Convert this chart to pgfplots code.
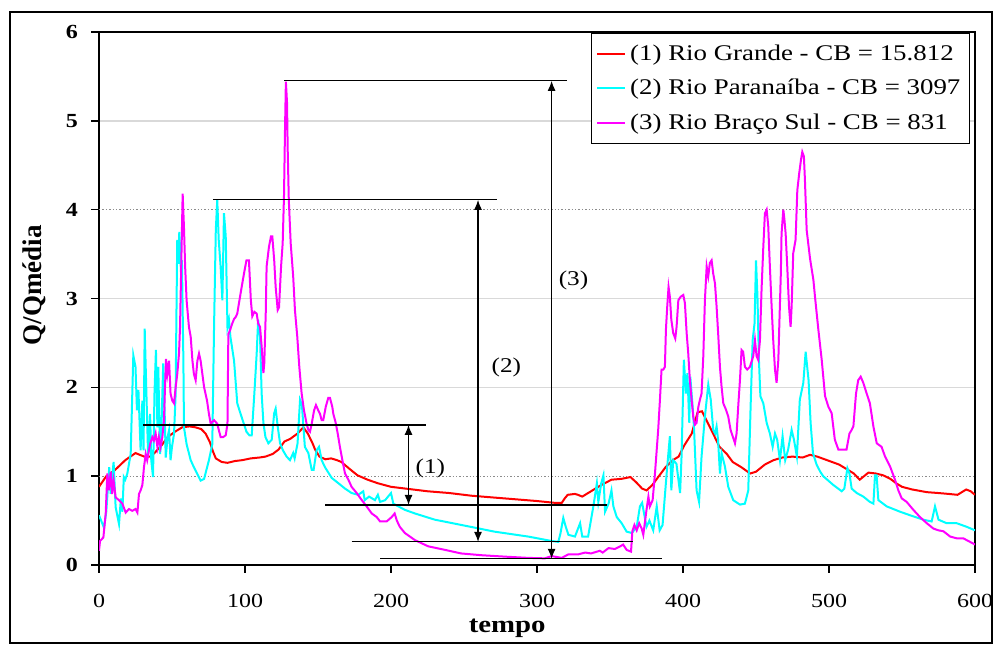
\documentclass[border=0pt]{standalone}
\usepackage{fontspec}
\setmainfont{Liberation Serif}[FakeStretch=1.2]
\newfontfamily\ylabfont{Liberation Serif}
\usepackage{pgfplots}
\pgfplotsset{compat=1.18}
\usetikzlibrary{arrows.meta}
\definecolor{rd}{RGB}{255,0,0}
\definecolor{cy}{RGB}{0,255,255}
\definecolor{mg}{RGB}{255,0,255}
\begin{document}
\begin{tikzpicture}
\begin{axis}[
  width=438pt, height=266.5pt, scale only axis,
  xmin=0, xmax=600, ymin=0, ymax=6,
  xtick={0,100,...,600}, ytick={0,2,3,5,6}, extra y ticks={1,4},
  /pgf/number format/assume math mode=true,
  axis line style={line width=1.2pt},
  tick align=outside, xtick pos=bottom, ytick pos=left,
  tick style={black, line width=0.8pt},
  major tick length=4pt,
  ymajorgrids, grid style={gray!30, line width=0.7pt},
  extra y tick style={grid style={densely dotted, gray!90, line width=0.5pt}},
  xticklabel style={font=\fontsize{10}{12}\selectfont, yshift=-7pt},
  yticklabel style={font=\fontsize{10}{12}\selectfont\bfseries, xshift=-3pt},
  xlabel={tempo},
  xlabel style={font=\fontsize{12}{14}\selectfont\bfseries, at={(axis description cs:0.466,-0.118)}, anchor=center},
  ylabel={\ylabfont Q/Qmédia},
  ylabel style={font=\fontsize{13.5}{15}\selectfont\bfseries, at={(axis description cs:-0.0742,0.525)}, anchor=center, rotate=0},
  legend cell align=left,
  legend style={at={(axis description cs:0.9943,0.998)}, anchor=north east, draw=black, line width=0.6pt,
    font=\fontsize{11.2}{13}\selectfont, row sep=4pt, inner xsep=2.5pt, inner ysep=3.5pt,
    nodes={inner xsep=2pt}},
  legend image code/.code={\draw[#1, line width=1pt] (0pt,0pt) -- (14pt,0pt);},
]
\addplot[rd, line width=1pt] coordinates {
(0,0.88) (5,1.0) (11,1.07) (18,1.18) (25,1.26) (31,1.22) (35,1.22) (38,1.26) (43,1.35) (47,1.44) (52,1.5) (57,1.55) (62,1.56) (66,1.55) (70,1.53) (73,1.48) (76,1.38) (78,1.28) (80,1.2) (84,1.16) (88,1.15) (93,1.17) (98,1.18) (104,1.2) (110,1.21) (114,1.22) (119,1.25) (123,1.3) (127,1.39) (131,1.42) (136,1.48) (140,1.55) (143,1.48) (146,1.38) (148,1.3) (151,1.22) (155,1.19) (159,1.2) (163,1.18) (166,1.16) (171,1.09) (177,1.01) (184,0.96) (191,0.92) (200,0.88) (210,0.86) (225,0.83) (240,0.81) (255,0.78) (270,0.76) (285,0.74) (300,0.72) (312,0.7) (317,0.7) (319,0.75) (321,0.79) (326,0.8) (328,0.79) (331,0.77) (334,0.8) (338,0.84) (344,0.9) (351,0.96) (358,0.97) (364,0.99) (368,0.93) (372,0.86) (375,0.84) (379,0.9) (383,0.99) (388,1.1) (393,1.18) (397,1.22) (401,1.35) (406,1.48) (410,1.72) (413,1.73) (416,1.63) (420,1.5) (425,1.33) (430,1.25) (434,1.16) (440,1.1) (446,1.03) (450,1.05) (456,1.13) (462,1.18) (468,1.21) (475,1.22) (482,1.21) (487,1.24) (492,1.22) (497,1.19) (502,1.16) (507,1.13) (512,1.08) (517,1.03) (521,0.96) (524,1.0) (527,1.04) (532,1.03) (537,1.01) (542,0.97) (546,0.92) (550,0.88) (557,0.85) (567,0.82) (575,0.81) (582,0.8) (588,0.79) (591,0.82) (594,0.85) (597,0.83) (600,0.79)
};
\addlegendentry{(1) Rio Grande - CB = 15.812}
\addplot[cy, line width=1pt] coordinates {
(0,0.56) (3.4,0.42) (5,0.6) (7,1.1) (8,0.8) (10,1.16) (11.4,0.65) (13.7,0.46) (15,0.75) (16,0.6) (17,0.99) (18,0.96) (19.4,1.03) (21.7,1.25) (22.8,1.93) (23.5,2.36) (25,2.23) (26,1.74) (27,1.97) (28.5,1.29) (29.7,1.85) (30.5,1.29) (31.3,2.66) (32.6,1.85) (33.6,1.25) (35,1.7) (35.8,1.18) (37,0.99) (38,1.93) (39,2.42) (40,1.55) (40.6,2.23) (41.8,1.25) (42.5,1.36) (43.4,1.93) (44,2.27) (45,1.7) (45.7,1.21) (47,1.44) (48,1.52) (49,1.18) (50,1.33) (51.4,1.48) (52.5,1.93) (53,2.76) (53.6,3.66) (54.3,3.39) (55,3.75) (56,3.36) (56.8,3.43) (57.8,2.3) (58.2,1.55) (60,1.36) (62.8,1.18) (65,1.1) (69.6,0.95) (72,0.97) (75.3,1.18) (77.6,1.36) (78.8,2.68) (80,3.77) (81,4.11) (82,3.66) (83.3,3.36) (84.5,2.98) (85.6,3.96) (86.8,3.7) (88,2.68) (89,2.76) (90,2.57) (92.5,2.3) (94.7,1.82) (97,1.7) (99,1.6) (101,1.5) (103,1.46) (104.6,1.46) (106.4,1.93) (108,2.38) (109,2.76) (110.3,2.57) (111.4,1.93) (112.6,1.6) (114,1.44) (116,1.37) (118.3,1.41) (120,1.71) (121,1.76) (122.4,1.56) (124,1.37) (126,1.29) (128.5,1.22) (130.8,1.18) (133,1.26) (134,1.2) (136,1.37) (137.7,1.86) (139,1.8) (140,1.56) (141,1.33) (143.4,1.26) (145.7,1.07) (147,1.07) (149,1.29) (150.7,1.33) (152.5,1.18) (154.8,1.1) (159.4,0.98) (164,0.92) (168.5,0.86) (173,0.81) (177.6,0.79) (181,0.83) (182,0.73) (185,0.77) (189,0.73) (191,0.79) (192.5,0.71) (196,0.73) (200,0.81) (201.6,0.69) (205,0.66) (209.6,0.62) (216.4,0.58) (230,0.51) (248.4,0.45) (271,0.375) (294,0.32) (310,0.27) (314.6,0.26) (316,0.35) (318,0.53) (319.7,0.43) (321.5,0.34) (326,0.32) (329.5,0.47) (331,0.32) (335,0.32) (338.6,0.66) (341,0.92) (342,0.71) (344,0.92) (345.5,1.01) (346.6,0.6) (349,0.69) (351,0.84) (352.3,0.66) (354.6,0.54) (358,0.47) (361.4,0.375) (365,0.36) (368.3,0.43) (370.5,0.66) (372,0.7) (375,0.43) (377,0.5) (379.6,0.39) (382,0.66) (384,0.39) (386,0.45) (388.8,1.03) (391,1.45) (392,0.84) (393.3,1.18) (395.5,1.14) (398,0.81) (399,1.22) (400.6,2.31) (402,1.93) (403,2.16) (404.3,1.6) (405,2.12) (406.6,1.78) (407.5,1.56) (409.3,0.84) (411,0.71) (412.7,1.22) (415,1.67) (417.3,2.03) (419,1.86) (420.7,1.52) (422,1.48) (423,1.56) (424,1.41) (425.3,1.03) (426.4,1.26) (428.7,1.11) (431,0.88) (434.4,0.73) (439,0.68) (442.4,0.69) (444.7,0.84) (446.3,1.78) (447.7,2.53) (449,2.72) (450,3.43) (451,3.02) (452,2.31) (453,1.9) (455,1.82) (457.3,1.6) (459.5,1.48) (461.4,1.33) (463,1.48) (464.5,1.41) (466.4,1.18) (468.2,1.45) (470,1.18) (472,1.3) (474.4,1.52) (476,1.41) (478,1.22) (480,1.86) (482.4,2.05) (484,2.4) (486,2.08) (487.4,1.6) (489,1.26) (491.5,1.13) (494,1.05) (496,1.0) (503,0.9) (508.7,0.83) (510.5,0.86) (512.6,1.09) (514,1.03) (515.5,0.86) (519,0.81) (523.5,0.77) (528,0.71) (530.4,0.69) (531.5,1.01) (532.6,1.01) (533.8,0.73) (539.5,0.66) (548.6,0.6) (555.5,0.56) (564.6,0.51) (570.3,0.49) (572.6,0.66) (575,0.51) (580.6,0.47) (587.5,0.47) (594.3,0.43) (600,0.39)
};
\addlegendentry{(2) Rio Paranaíba - CB = 3097}
\addplot[mg, line width=1pt] coordinates {
(0,0.16) (0.7,0.27) (3,0.31) (4.6,0.58) (5.7,1.03) (6.8,0.84) (8,1.05) (9,0.8) (10,0.95) (11.4,0.76) (13.7,0.73) (16,0.69) (18.3,0.59) (20.5,0.63) (22.8,0.61) (25,0.63) (26.3,0.59) (27.4,0.8) (28.5,0.84) (29.7,0.9) (30.8,1.1) (32,1.25) (33,1.18) (35,1.36) (36.5,1.44) (37.6,1.4) (38.8,1.48) (40,1.33) (41,1.44) (42.2,1.33) (43.4,1.44) (44.5,1.63) (45.2,2.0) (45.9,2.32) (46.8,2.15) (48,2.3) (49,1.93) (50.2,1.85) (51.4,1.82) (52.5,2.0) (53.6,2.15) (54.8,2.38) (55.5,2.68) (56.4,3.43) (57.3,4.18) (58.2,3.8) (59,3.36) (60,2.98) (61.6,2.68) (62.8,2.57) (64,2.3) (65,2.15) (66.2,2.08) (67.4,2.3) (68.5,2.38) (69.6,2.3) (70.8,2.15) (72,2.0) (74,1.85) (75.3,1.7) (76.5,1.59) (78.8,1.63) (81,1.59) (83.3,1.44) (85,1.44) (86.8,1.46) (88,1.59) (88.6,2.6) (89.7,2.64) (91.3,2.72) (92.5,2.77) (93.6,2.79) (94.7,2.83) (97,3.06) (99.3,3.28) (101,3.43) (102.7,3.43) (104,2.98) (105,2.8) (106.4,2.85) (108,2.83) (109,2.72) (110.3,2.68) (111.4,2.46) (112.6,2.16) (113.2,2.27) (114.2,2.83) (114.8,3.36) (116.4,3.58) (117.8,3.7) (118.7,3.7) (120,3.43) (121,3.13) (122.4,2.87) (123.3,2.9) (124.7,3.36) (125.8,3.62) (126.7,4.15) (127.4,4.9) (128,5.44) (128.8,5.2) (129.2,4.71) (130,4.11) (131.3,3.62) (133,3.25) (134.2,2.87) (135.8,2.57) (137.2,2.23) (138.8,1.93) (140.4,1.74) (142.2,1.59) (143.4,1.52) (144.5,1.5) (145.7,1.59) (147.3,1.74) (148.6,1.8) (150.2,1.74) (151.4,1.7) (152.5,1.63) (153.6,1.63) (155.3,1.78) (157,1.88) (158.2,1.88) (159.8,1.78) (160.5,1.7) (162,1.61) (163.5,1.48) (165,1.33) (166.7,1.18) (168.5,1.03) (170.8,0.96) (173,0.88) (176.5,0.81) (180,0.73) (183.3,0.66) (186.8,0.58) (190.2,0.54) (192.5,0.49) (197,0.49) (200.5,0.54) (202.5,0.58) (204,0.5) (206,0.43) (209.5,0.36) (216.4,0.28) (225.5,0.21) (237,0.17) (248,0.13) (262,0.11) (278,0.094) (294,0.08) (305.4,0.075) (310,0.1) (317,0.08) (321.5,0.12) (328.3,0.12) (333,0.14) (337,0.13) (343,0.16) (345,0.14) (349,0.19) (353.4,0.18) (357,0.21) (359,0.23) (361.4,0.17) (364.4,0.15) (365.3,0.38) (366.7,0.45) (368.3,0.39) (370,0.47) (371.7,0.41) (372.8,0.34) (375,0.62) (376.3,0.77) (377.3,0.66) (379.2,0.73) (380.8,1.03) (383,1.52) (384.2,1.86) (385.3,2.2) (386.5,2.2) (387.6,2.23) (388.3,2.65) (389.2,2.91) (390.1,3.13) (391,3.02) (392,2.76) (393.3,2.61) (394.7,2.55) (395.6,2.68) (396.8,2.98) (398.4,3.02) (400.2,3.04) (401.3,2.95) (402.5,2.61) (403.6,2.38) (404.7,2.08) (405.9,1.86) (407,1.67) (408.2,1.58) (409.3,1.6) (410.5,1.78) (411.6,1.86) (412.7,1.93) (413.9,2.35) (415,2.98) (416.2,3.36) (417.3,3.25) (418.4,3.4) (419.6,3.43) (420.7,3.28) (421.9,3.17) (423,2.91) (424.2,2.57) (425.3,2.23) (426.4,2.01) (427.6,1.82) (429.4,1.75) (431,1.67) (432.6,1.52) (434,1.45) (435.6,1.37) (436.7,1.48) (437.8,1.78) (439,2.08) (440.1,2.42) (441.2,2.4) (442.4,2.23) (444,2.2) (445.8,2.23) (448.1,2.35) (449.3,2.53) (450.4,2.35) (451.5,2.31) (452.7,2.53) (453.8,3.1) (455,3.58) (456.1,3.96) (457.3,4.0) (458.4,3.81) (459.5,3.36) (460.7,2.91) (461.8,2.53) (463,2.2) (464.1,2.05) (465.3,2.31) (466,2.72) (467,3.28) (467.5,3.73) (468.7,4.0) (469.4,3.9) (470.3,3.73) (471.4,3.36) (472.6,2.91) (473.7,2.68) (474.4,2.91) (475.5,3.51) (477.1,3.66) (478.3,4.22) (479.6,4.41) (480.8,4.56) (481.7,4.65) (482.8,4.6) (483.5,4.34) (484.7,3.77) (487,3.45) (489.3,3.21) (490.4,3.02) (492.7,2.65) (495,2.31) (497.3,1.9) (499.6,1.78) (501.8,1.71) (504,1.41) (506.4,1.3) (512,1.3) (514,1.48) (515.5,1.52) (516.7,1.56) (518.5,1.93) (520,2.08) (521.7,2.12) (523.5,2.05) (525.8,1.93) (528,1.82) (530.4,1.56) (532.7,1.37) (536,1.33) (538.4,1.22) (541.8,1.11) (545.2,0.96) (547.5,0.84) (549.8,0.75) (553.2,0.71) (557.8,0.62) (562.3,0.54) (567,0.47) (571.5,0.41) (575,0.39) (578.3,0.38) (583,0.32) (587.5,0.3) (592,0.3) (596.6,0.26) (600,0.23)
};
\addlegendentry{(3) Rio Braço Sul - CB = 831}
% annotations
\draw[black, line width=0.6pt] (axis cs:127,5.45) -- (axis cs:320.5,5.45);
\draw[black, line width=0.6pt] (axis cs:78,4.11) -- (axis cs:272.6,4.11);
\draw[black, line width=0.6pt] (axis cs:30,1.577) -- (axis cs:224,1.577);
\draw[black, line width=0.6pt] (axis cs:155,0.676) -- (axis cs:348,0.676);
\draw[black, line width=0.6pt] (axis cs:173,0.26) -- (axis cs:366,0.26);
\draw[black, line width=0.6pt] (axis cs:192.5,0.07) -- (axis cs:385.6,0.07);
\draw[black, line width=0.6pt, {Latex[length=5pt,width=4pt]}-{Latex[length=5pt,width=4pt]}] (axis cs:212,1.577) -- (axis cs:212,0.676);
\draw[black, line width=0.6pt, {Latex[length=5pt,width=4pt]}-{Latex[length=5pt,width=4pt]}] (axis cs:259.6,4.11) -- (axis cs:259.6,0.26);
\draw[black, line width=0.6pt, {Latex[length=5pt,width=4pt]}-{Latex[length=5pt,width=4pt]}] (axis cs:310,5.45) -- (axis cs:310,0.07);
\node[font=\fontsize{10.5}{12}\selectfont] at (axis cs:227,1.09) {(1)};
\node[font=\fontsize{10.5}{12}\selectfont] at (axis cs:279,2.22) {(2)};
\node[font=\fontsize{10.5}{12}\selectfont] at (axis cs:325,3.2) {(3)};
\coordinate (O) at (rel axis cs:0,0);
\coordinate (T) at (rel axis cs:1,1);
\end{axis}
\pgfresetboundingbox
\path ([shift={(-49.5pt,-40pt)}]O) rectangle ([shift={(9.5pt,16pt)}]T);
\draw[line width=1pt] ([shift={(-44.5pt,-39pt)}]O) rectangle ([shift={(8.5pt,10pt)}]T);
\end{tikzpicture}
\end{document}
